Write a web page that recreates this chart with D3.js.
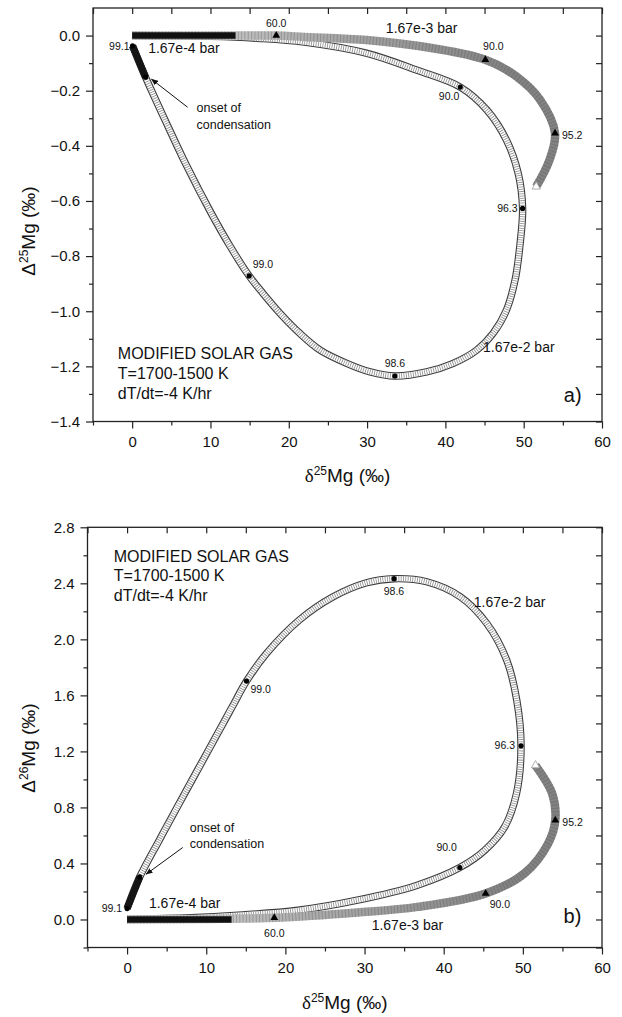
<!DOCTYPE html>
<html><head><meta charset="utf-8">
<script src="https://cdn.jsdelivr.net/npm/d3@7"></script>
<style>
body{margin:0;background:#fff;}
svg text{font-family:"Liberation Sans",Arial,Helvetica,sans-serif;fill:#111;}
</style></head><body>
<svg id="c" width="622" height="1017"></svg>
<script>
// ---------------- data ----------------
const xTicks = [0,10,20,30,40,50,60];
const xMinor = [-5,5,15,25,35,45,55];
const xMirror = [-5,0,5,10,15,20,25,30,35,40,45,50,55,60];
const aYTicks = [-1.4,-1.2,-1.0,-0.8,-0.6,-0.4,-0.2,0.0];
const aYMinor = [-1.3,-1.1,-0.9,-0.7,-0.5,-0.3,-0.1];
const bYTicks = [0.0,0.4,0.8,1.2,1.6,2.0,2.4,2.8];
const bYMinor = [-0.2,0.2,0.6,1.0,1.4,1.8,2.2,2.6];

const seriesNames = ["1.67e-4 bar","1.67e-3 bar","1.67e-2 bar"];
const infoLines = ["MODIFIED SOLAR GAS","T=1700-1500 K","dT/dt=-4 K/hr"];

// panel a : Δ25Mg vs δ25Mg
const aE4X = [0,13.2], aE4Y = [0,0];
const aE3X = [0,10,18.4,22,29.9,38.4,45.1,49.1,52.1,54.0,53.3,51.6];
const aE3Y = [0,0,0,-0.005,-0.016,-0.046,-0.088,-0.149,-0.233,-0.354,-0.451,-0.548];
const aE2X = [0,10,16,22,29.9,36.3,41.9,45.3,47.8,49.3,49.86,49.5,48.9,47.8,46.1,44.0,41.0,37.6,33.55,30.4,27.4,24.0,21.4,18.9,16.7,14.94,12.5,9.92,6.95,4.39,1.71,0.05];
const aE2Y = [0,-0.003,-0.01,-0.024,-0.064,-0.125,-0.187,-0.27,-0.379,-0.5,-0.627,-0.766,-0.887,-0.996,-1.08,-1.141,-1.189,-1.22,-1.235,-1.22,-1.189,-1.141,-1.08,-1.008,-0.935,-0.872,-0.764,-0.635,-0.472,-0.318,-0.151,-0.037];
const aTriX = [18.4,45.1,54.0], aTriY = [0,-0.088,-0.354], aTriLab = ["60.0","90.0","95.2"];
const aDotX = [41.9,49.86,33.55,14.94,1.71,0.05];
const aDotY = [-0.187,-0.627,-1.235,-0.872,-0.151,-0.037];
const aDotLab = ["90.0","96.3","98.6","99.0","","99.1"];

// panel b : Δ26Mg vs δ25Mg
const bE4X = [0,13.2], bE4Y = [0,0];
const bE3X = [0,10,18.6,29.1,36.7,45.3,50.2,53.2,54.1,53.7,51.6];
const bE3Y = [0,0.004,0.012,0.05,0.09,0.186,0.329,0.543,0.709,0.9,1.1];
const bE2X = [0,8,14.06,21.6,29.1,36.67,42.04,45.2,47.7,49.2,49.77,49.23,47.96,45.44,42.1,37.85,33.72,30.26,26.04,21.8,17.62,15.09,13.3,11.4,9.0,6.6,4.1,1.6,0];
const bE2Y = [0,0.012,0.031,0.066,0.138,0.245,0.371,0.495,0.661,0.9,1.24,1.566,1.852,2.114,2.304,2.411,2.433,2.404,2.304,2.14,1.9,1.702,1.52,1.324,1.077,0.83,0.57,0.304,0.078];
const bTriX = [18.6,45.3,54.1], bTriY = [0.012,0.186,0.709], bTriLab = ["60.0","90.0","95.2"];
const bDotX = [42.04,49.77,33.72,15.09,1.6,0];
const bDotY = [0.371,1.24,2.433,1.702,0.304,0.078];
const bDotLab = ["90.0","96.3","98.6","99.0","","99.1"];

// ---------------- layout ----------------
const panels = [
  {left:93, right:602, top:8, bottom:421.5, ydom:[-1.4,0.1], yTicks:aYTicks, yMinor:aYMinor,
   yFmt:d3.format(".1f"), iso:"25", tag:"a)",
   e4:[aE4X,aE4Y], e3:[aE3X,aE3Y], e2:[aE2X,aE2Y],
   tri:[aTriX,aTriY,aTriLab], dot:[aDotX,aDotY,aDotLab],
   triOff:[[0,-9,"middle"],[8,-10,"middle"],[7,6,"start"]],
   dotOff:[[-1,13,"end"],[-5,3.5,"end"],[0,-9,"middle"],[3.5,-7.5,"start"],null,[-3,4,"end"]],
   onsetIdx:4,
   arrow:{tip:[6,2], tail:[42,30], t1:[51,35], t2:[51,51.5]},
   lab4:[2.04,-0.064], lab3:[32.4,0.0098], lab2:[44.8,-1.147],
   info:[-1.83,-1.175], tagPos:[57.4,-1.328],
   yTitleY:231, xTitleY:482},
  {left:87.5, right:602, top:527.3, bottom:947.5, ydom:[-0.2,2.8], yTicks:bYTicks, yMinor:bYMinor,
   yFmt:d3.format(".1f"), iso:"26", tag:"b)",
   e4:[bE4X,bE4Y], e3:[bE3X,bE3Y], e2:[bE2X,bE2Y],
   tri:[bTriX,bTriY,bTriLab], dot:[bDotX,bDotY,bDotLab],
   triOff:[[0,19,"middle"],[4,15,"start"],[7,6,"start"]],
   dotOff:[[-3,-16.5,"end"],[-6,3.5,"end"],[0,16,"middle"],[4,12,"start"],null,[-5,3,"end"]],
   onsetIdx:4,
   arrow:{tip:[6.4,-2.7], tail:[43,-29.4], t1:[50,-45], t2:[50,-29.4]},
   lab4:[2.76,0.081], lab3:[30.9,-0.076], lab2:[43.8,2.233],
   info:[-1.68,2.554], tagPos:[57.4,-0.026],
   yTitleY:748, xTitleY:1009}
];

const svg = d3.select("#c");
const defs = svg.append("defs");
defs.append("marker").attr("id","arr").attr("viewBox","0 0 10 10").attr("refX",9).attr("refY",5)
  .attr("markerWidth",7).attr("markerHeight",7).attr("orient","auto-start-reverse")
  .attr("markerUnits","userSpaceOnUse")
  .append("path").attr("d","M0,1 L10,5 L0,9 Z").attr("fill","#111");

panels.forEach((P,pi)=>{
  const x = d3.scaleLinear().domain([-5,60]).range([P.left,P.right]);
  const y = d3.scaleLinear().domain(P.ydom).range([P.bottom,P.top]);
  const g = svg.append("g");
  const line = d3.line().x(d=>x(d[0])).y(d=>y(d[1])).curve(d3.curveCatmullRom.alpha(0.5));
  const zip = (a)=>a[0].map((v,i)=>[v,a[1][i]]);

  const gid = "gg"+pi;
  const grad = defs.append("linearGradient").attr("id",gid).attr("gradientUnits","userSpaceOnUse")
    .attr("x1",x(12)).attr("x2",x(48)).attr("y1",0).attr("y2",0);
  grad.append("stop").attr("offset",0).attr("stop-color","#c2c2c2");
  grad.append("stop").attr("offset",0.45).attr("stop-color","#a3a3a3");
  grad.append("stop").attr("offset",1).attr("stop-color","#828282");

  // 1.67e-2 bar : chain of open circles
  const p2 = line(zip(P.e2));
  g.append("path").attr("d",p2).attr("fill","none").attr("stroke","#3c3c3c").attr("stroke-width",7.4);
  g.append("path").attr("d",p2).attr("fill","none").attr("stroke","#fff").attr("stroke-width",5.2);
  g.append("path").attr("d",p2).attr("fill","none").attr("stroke","#8a8a8a").attr("stroke-width",5.2).attr("stroke-dasharray","0.8 1.5");

  // 1.67e-3 bar : grey band of triangles
  const p3 = line(zip(P.e3));
  g.append("path").attr("d",p3).attr("fill","none").attr("stroke","url(#"+gid+")").attr("stroke-width",8.5);
  g.append("path").attr("d",p3).attr("fill","none").attr("stroke","#5a5a5a").attr("stroke-opacity",0.35)
    .attr("stroke-width",8.5).attr("stroke-dasharray","1 2.3");
  const n3 = P.e3[0].length-1;
  g.append("path").attr("d",d3.symbol(d3.symbolTriangle,30)())
    .attr("transform",`translate(${x(P.e3[0][n3])},${y(P.e3[1][n3])})`)
    .attr("fill","#fff").attr("stroke","#999").attr("stroke-width",0.8);

  // 1.67e-4 bar : black band
  g.append("path").attr("d",line(zip(P.e4))).attr("fill","none").attr("stroke","#111").attr("stroke-width",6.5);

  // condensation segment (last points of the 1.67e-2 series)
  const e2pts = zip(P.e2);
  g.append("path").attr("d",line(e2pts.slice(-2))).attr("fill","none").attr("stroke","#151515").attr("stroke-width",7);

  P.tri[0].forEach((v,i)=>{
    const cx=x(v), cy=y(P.tri[1][i]);
    g.append("path").attr("d",d3.symbol(d3.symbolTriangle,26)()).attr("transform",`translate(${cx},${cy})`).attr("fill","#000");
    const o=P.triOff[i];
    g.append("text").attr("x",cx+o[0]).attr("y",cy+o[1]).attr("text-anchor",o[2]).attr("font-size",10.5).text(P.tri[2][i]);
  });
  P.dot[0].forEach((v,i)=>{
    const cx=x(v), cy=y(P.dot[1][i]);
    g.append("circle").attr("cx",cx).attr("cy",cy).attr("r",2.6).attr("fill","#000");
    const o=P.dotOff[i];
    if(o) g.append("text").attr("x",cx+o[0]).attr("y",cy+o[1]).attr("text-anchor",o[2]).attr("font-size",10.5).text(P.dot[2][i]);
  });

  const ox=x(P.dot[0][P.onsetIdx]), oy=y(P.dot[1][P.onsetIdx]);
  const A=P.arrow;
  g.append("line").attr("x1",ox+A.tail[0]).attr("y1",oy+A.tail[1]).attr("x2",ox+A.tip[0]).attr("y2",oy+A.tip[1])
    .attr("stroke","#111").attr("stroke-width",1).attr("marker-end","url(#arr)");
  g.append("text").attr("x",ox+A.t1[0]).attr("y",oy+A.t1[1]).attr("font-size",12.5).text("onset of");
  g.append("text").attr("x",ox+A.t2[0]).attr("y",oy+A.t2[1]).attr("font-size",12.5).text("condensation");

  [[P.lab4,0],[P.lab3,1],[P.lab2,2]].forEach(([p,k])=>{
    g.append("text").attr("x",x(p[0])).attr("y",y(p[1])).attr("font-size",14).text(seriesNames[k]);
  });
  const y0 = y(P.info[1]);
  infoLines.forEach((t,i)=>{
    g.append("text").attr("x",x(P.info[0])).attr("y",y0+i*19.7).attr("font-size",16).text(t);
  });
  g.append("text").attr("x",x(P.tagPos[0])).attr("y",y(P.tagPos[1])).attr("text-anchor","end").attr("font-size",20).text(P.tag);

  g.append("rect").attr("x",P.left).attr("y",P.top).attr("width",P.right-P.left).attr("height",P.bottom-P.top)
    .attr("fill","none").attr("stroke","#222").attr("stroke-width",1.3);

  const styleAx = sel=>{sel.select(".domain").remove(); sel.selectAll("line").attr("stroke","#222").attr("stroke-width",1.2);
    sel.selectAll("text").attr("font-size",15).attr("font-family","Liberation Sans, Arial, sans-serif").attr("fill","#111");};
  g.append("g").attr("transform",`translate(0,${P.bottom})`)
    .call(d3.axisBottom(x).tickValues(xTicks).tickSize(7).tickPadding(8).tickFormat(d3.format("d"))).call(styleAx);
  g.append("g").attr("transform",`translate(0,${P.bottom})`)
    .call(d3.axisBottom(x).tickValues(xMinor).tickSize(4).tickFormat("")).call(styleAx);
  g.append("g").attr("transform",`translate(0,${P.top})`)
    .call(d3.axisTop(x).tickValues(xMirror).tickSize(-6).tickFormat("")).call(styleAx);
  g.append("g").attr("transform",`translate(${P.left},0)`)
    .call(d3.axisLeft(y).tickValues(P.yTicks).tickSize(7).tickPadding(6).tickFormat(P.yFmt)).call(styleAx);
  g.append("g").attr("transform",`translate(${P.left},0)`)
    .call(d3.axisLeft(y).tickValues(P.yMinor).tickSize(4).tickFormat("")).call(styleAx);
  g.append("g").attr("transform",`translate(${P.right},0)`)
    .call(d3.axisRight(y).tickValues(P.yTicks.concat(P.yMinor)).tickSize(-6).tickFormat("")).call(styleAx);

  const xt = g.append("text").attr("x",(P.left+P.right)/2).attr("y",P.xTitleY).attr("text-anchor","middle").attr("font-size",19);
  xt.append("tspan").attr("font-family","Liberation Serif, Times New Roman, serif").text("δ");
  xt.append("tspan").attr("font-size",12).attr("dy",-7).text("25");
  xt.append("tspan").attr("dy",7).text("Mg (‰)");
  const yt = g.append("text").attr("transform",`translate(35,${P.yTitleY}) rotate(-90)`).attr("text-anchor","middle").attr("font-size",19);
  yt.append("tspan").text("Δ");
  yt.append("tspan").attr("font-size",12).attr("dy",-7).text(P.iso);
  yt.append("tspan").attr("dy",7).text("Mg (‰)");
});
</script>
</body></html>
